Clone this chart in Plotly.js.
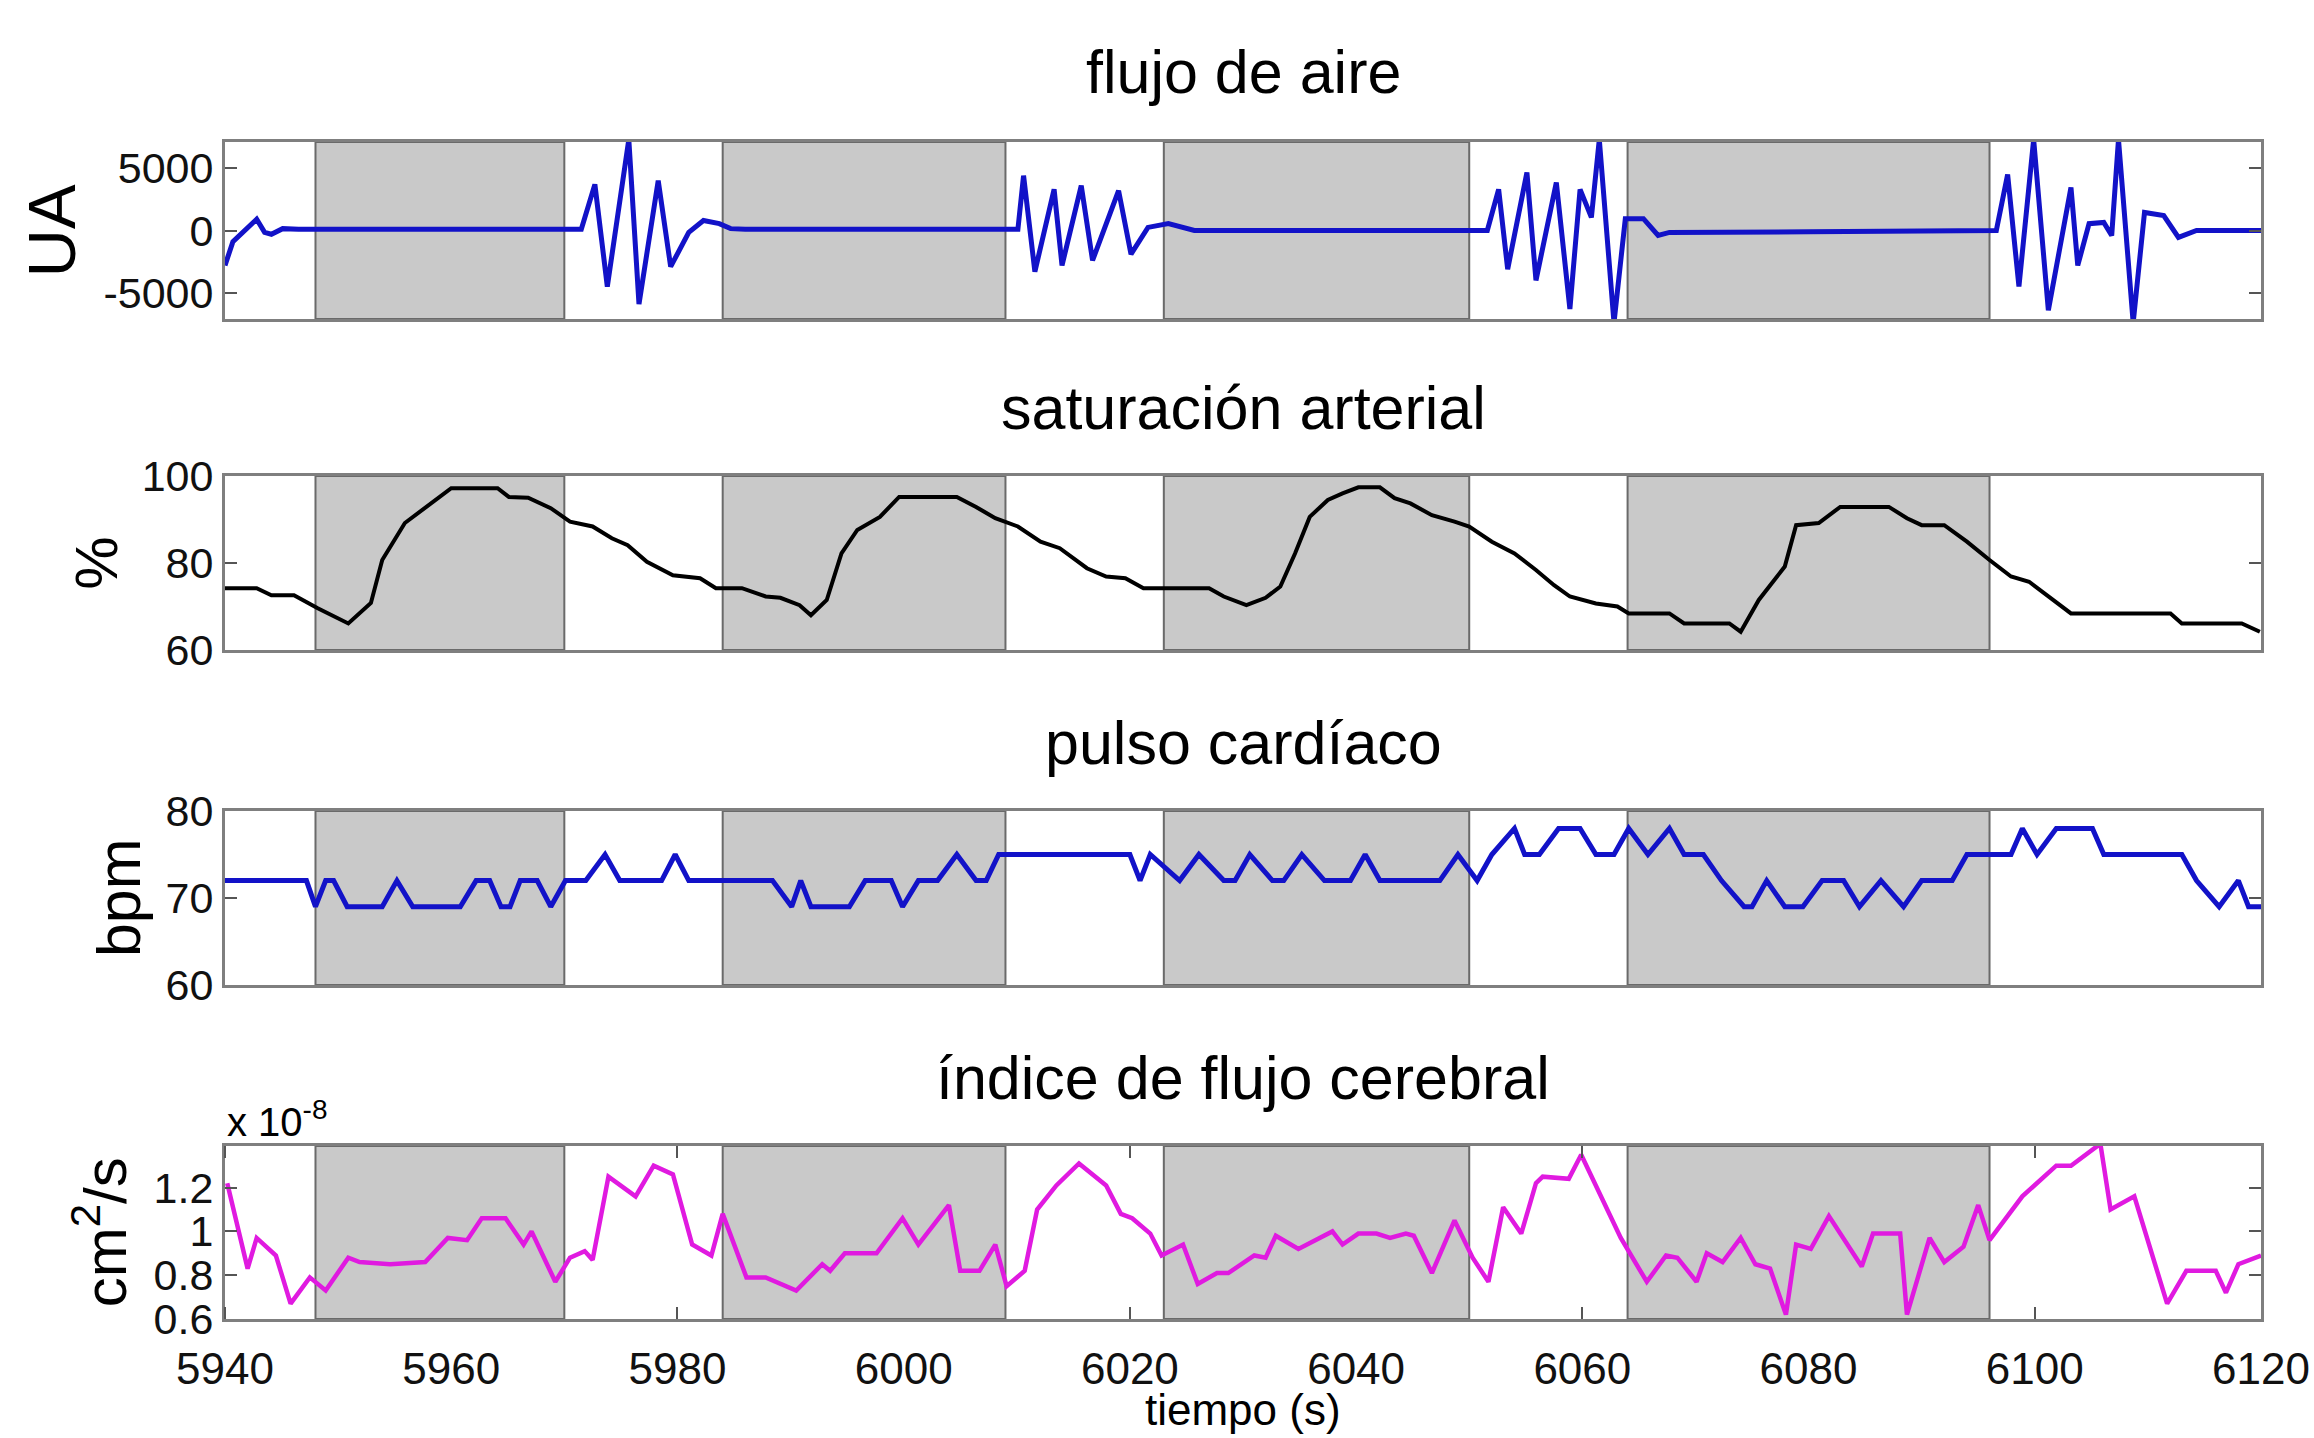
<!DOCTYPE html>
<html>
<head>
<meta charset="utf-8">
<script src="https://cdn.plot.ly/plotly-3.0.1.min.js"></script>
<style>html,body{margin:0;padding:0;background:#fff;}#chart{width:2314px;height:1438px;}</style>
</head>
<body>
<div id="chart"></div>
<script>
// ---- shading intervals (s) ----
const apneaStart = [5948, 5984, 6023, 6064];
const apneaEnd   = [5970, 6009, 6050, 6096];

// ---- panel 1: flujo de aire (UA) ----
const flowT = [5940, 5940.7, 5942.8, 5943.5, 5944.1, 5945.1, 5946.5, 5971.5, 5972.7, 5973.8,
  5975.7, 5976.6, 5978.3, 5979.4, 5981.0, 5982.3, 5983.7, 5984.7, 5986, 6010.1,
  6010.6, 6011.6, 6013.3, 6014.0, 6015.7, 6016.7, 6019.0, 6020.1, 6021.6, 6023.4,
  6025.7, 6051.6, 6052.6, 6053.4, 6055.1, 6055.9, 6057.7, 6058.9, 6059.8, 6060.8,
  6061.5, 6062.8, 6063.8, 6065.4, 6066.7, 6067.7, 6080, 6096.6, 6097.6, 6098.6,
  6099.9, 6101.2, 6103.2, 6103.8, 6104.8, 6106.1, 6106.8, 6107.4, 6108.7, 6109.7,
  6111.4, 6112.7, 6114.3, 6120];
const flowV = [-2800, -900, 900, -150, -300, 150, 100, 100, 3700, -4500,
  7300, -5900, 4000, -2900, -150, 800, 550, 150, 100, 100,
  4400, -3300, 3300, -2800, 3600, -2400, 3200, -1900, 250, 550,
  0, 0, 3300, -3100, 4650, -4000, 3850, -6300, 3300, 1050,
  7300, -7400, 950, 950, -400, -150, -100, 0, 4500, -4500,
  7300, -6400, 3450, -2800, 550, 650, -400, 7300, -7400, 1450,
  1200, -550, 0, 0];

// ---- panel 2: saturación arterial (%) ----
const satT = [5940, 5942.8, 5944.1, 5946.1, 5948.2, 5950.9, 5952.9, 5953.9, 5955.9, 5958.0,
  5960.0, 5964.1, 5965.1, 5966.8, 5968.8, 5970.5, 5972.5, 5974.2, 5975.6, 5977.3,
  5979.6, 5982.0, 5983.4, 5985.7, 5987.8, 5989.1, 5990.8, 5991.8, 5993.2, 5994.5,
  5995.9, 5997.9, 5999.6, 6004.7, 6006.4, 6008.1, 6010.1, 6012.1, 6013.8, 6016.2,
  6017.9, 6019.6, 6021.2, 6027.0, 6028.3, 6030.3, 6032.0, 6033.3, 6034.6, 6035.9,
  6037.5, 6038.8, 6040.2, 6042.1, 6043.4, 6044.8, 6046.7, 6048.7, 6050.0, 6052.0,
  6054.0, 6055.9, 6057.5, 6058.9, 6061.2, 6063.1, 6064.1, 6067.7, 6069.0, 6073.0,
  6074.0, 6075.6, 6077.9, 6078.9, 6080.9, 6082.8, 6087.1, 6088.7, 6090.0, 6092.0,
  6094.0, 6096.0, 6097.9, 6099.5, 6103.2, 6112.0, 6113.0, 6118.3, 6119.9];
const satV = [74.2, 74.2, 72.6, 72.6, 69.6, 66.1, 70.8, 80.7, 89.2, 93.3,
  97.2, 97.2, 95.2, 95.0, 92.6, 89.5, 88.4, 85.7, 84.1, 80.3,
  77.2, 76.5, 74.2, 74.2, 72.3, 72.0, 70.3, 68.0, 71.5, 82.2,
  87.6, 90.6, 95.2, 95.2, 92.9, 90.3, 88.4, 84.9, 83.4, 78.8,
  76.9, 76.5, 74.2, 74.2, 72.3, 70.3, 72.0, 74.6, 82.2, 90.6,
  94.5, 96.0, 97.4, 97.4, 94.9, 93.7, 91.0, 89.5, 88.4, 84.9,
  82.2, 78.4, 74.9, 72.3, 70.7, 70.0, 68.4, 68.4, 66.1, 66.1,
  64.2, 71.5, 79.2, 88.7, 89.2, 92.9, 92.9, 90.3, 88.7, 88.7,
  84.9, 80.7, 76.9, 75.7, 68.4, 68.4, 66.1, 66.1, 64.2];

// ---- panel 3: pulso cardíaco (bpm) ----
const pulseT = [5940, 5947.2, 5948.0, 5948.9, 5949.6, 5950.8, 5953.9, 5955.2, 5956.6, 5960.8,
  5962.2, 5963.4, 5964.4, 5965.2, 5966.1, 5967.6, 5968.8, 5970.1, 5971.9, 5973.6,
  5974.9, 5978.6, 5979.8, 5981.0, 5988.4, 5990.1, 5990.9, 5991.8, 5995.2, 5996.6,
  5998.9, 5999.9, 6001.3, 6003.0, 6004.7, 6006.4, 6007.3, 6008.4, 6020.0, 6020.9,
  6021.8, 6024.4, 6026.1, 6028.3, 6029.3, 6030.6, 6032.6, 6033.6, 6035.2, 6037.2,
  6039.5, 6040.8, 6042.1, 6047.4, 6049.0, 6050.7, 6052.0, 6054.0, 6054.9, 6056.2,
  6057.9, 6059.8, 6061.2, 6062.8, 6064.1, 6065.8, 6067.7, 6069.0, 6070.7, 6072.3,
  6074.3, 6075.0, 6076.3, 6077.9, 6079.5, 6081.2, 6083.1, 6084.5, 6086.4, 6088.4,
  6090.0, 6092.7, 6094.0, 6097.9, 6098.9, 6100.2, 6101.9, 6105.1, 6106.1, 6113.0,
  6114.3, 6116.3, 6118.0, 6118.9, 6120];
const pulseV = [72, 72, 69, 72, 72, 69, 69, 72, 69, 69,
  72, 72, 69, 69, 72, 72, 69, 72, 72, 75,
  72, 72, 75, 72, 72, 69, 72, 69, 69, 72,
  72, 69, 72, 72, 75, 72, 72, 75, 75, 72,
  75, 72, 75, 72, 72, 75, 72, 72, 75, 72,
  72, 75, 72, 72, 75, 72, 75, 78, 75, 75,
  78, 78, 75, 75, 78, 75, 78, 75, 75, 72,
  69, 69, 72, 69, 69, 72, 72, 69, 72, 69,
  72, 72, 75, 75, 78, 75, 78, 78, 75, 75,
  72, 69, 72, 69, 69];

// ---- panel 4: índice de flujo cerebral (x 10^-8 cm^2/s) ----
const cbfT = [5940.2, 5942.0, 5942.8, 5944.5, 5945.8, 5947.5, 5948.9, 5950.9, 5951.9, 5954.6,
  5957.7, 5959.7, 5961.4, 5962.7, 5964.8, 5966.4, 5967.1, 5969.2, 5970.5, 5971.8,
  5972.5, 5973.9, 5976.3, 5977.9, 5979.6, 5981.3, 5983.0, 5984.0, 5986.1, 5987.8,
  5990.5, 5992.8, 5993.5, 5994.8, 5997.6, 5999.9, 6001.3, 6004.0, 6005.0, 6006.7,
  6008.1, 6009.1, 6010.7, 6011.8, 6013.5, 6015.5, 6017.9, 6019.2, 6020.2, 6021.8,
  6022.8, 6024.7, 6026.0, 6027.7, 6028.7, 6031.0, 6032.0, 6032.9, 6034.9, 6037.9,
  6038.8, 6040.2, 6041.8, 6043.0, 6044.4, 6045.1, 6046.7, 6048.7, 6050.3, 6051.7,
  6053.0, 6054.6, 6055.9, 6056.5, 6058.8, 6059.9, 6063.4, 6065.7, 6067.4, 6068.4,
  6070.1, 6071.0, 6072.4, 6074.0, 6075.3, 6076.6, 6078.0, 6078.9, 6080.2, 6081.8,
  6084.7, 6085.7, 6088.1, 6088.7, 6090.7, 6092.0, 6093.7, 6095.0, 6096.0, 6098.9,
  6101.9, 6103.2, 6105.8, 6106.7, 6108.8, 6111.7, 6113.4, 6116.0, 6116.9, 6118.0,
  6120.0];
const cbfV = [1.22, 0.83, 0.97, 0.89, 0.67, 0.79, 0.73, 0.88, 0.86, 0.85,
  0.86, 0.97, 0.96, 1.06, 1.06, 0.94, 1.00, 0.77, 0.88, 0.91,
  0.87, 1.25, 1.16, 1.30, 1.26, 0.94, 0.89, 1.08, 0.79, 0.79,
  0.73, 0.85, 0.82, 0.90, 0.90, 1.06, 0.94, 1.12, 0.82, 0.82,
  0.94, 0.75, 0.82, 1.10, 1.21, 1.31, 1.21, 1.08, 1.06, 0.99,
  0.89, 0.94, 0.76, 0.81, 0.81, 0.89, 0.88, 0.98, 0.92, 1.00,
  0.94, 0.99, 0.99, 0.97, 0.99, 0.98, 0.81, 1.05, 0.88, 0.77,
  1.11, 0.99, 1.22, 1.25, 1.24, 1.35, 0.97, 0.77, 0.89, 0.88,
  0.77, 0.90, 0.86, 0.97, 0.85, 0.83, 0.62, 0.94, 0.92, 1.07,
  0.84, 0.99, 0.99, 0.62, 0.97, 0.86, 0.93, 1.12, 0.96, 1.16,
  1.30, 1.30, 1.40, 1.10, 1.16, 0.67, 0.82, 0.82, 0.72, 0.85,
  0.89];

// ---- texts and ticks ----
const panelTitles = ["flujo de aire", "saturación arterial", "pulso cardíaco", "índice de flujo cerebral"];
const yTitles = ["UA", "%", "bpm", "cm<sup>2</sup>/s"];
const xTitle = "tiempo (s)";
const cbfExponent = "x 10<sup>-8</sup>";
const xTickVals = [5940, 5960, 5980, 6000, 6020, 6040, 6060, 6080, 6100, 6120];
const y1TickVals = [-5000, 0, 5000];
const y1TickText = ["-5000", "0", "5000"];
const y2TickVals = [60, 80, 100];
const y3TickVals = [60, 70, 80];
const y4TickVals = [0.6, 0.8, 1, 1.2];
const y4TickText = ["0.6", "0.8", "1", "1.2"];

// ---- layout geometry ----
const FONT = "Liberation Sans, Arial, Helvetica, sans-serif";
const domains = [[0.8496, 1], [0.5684, 0.7162], [0.2838, 0.4316], [0, 0.1470]];
const yRanges = [[-7100, 7100], [60, 100], [60, 80], [0.6, 1.39]];
const yTicks = [[y1TickVals, y1TickText], [y2TickVals, y2TickVals.map(String)], [y3TickVals, y3TickVals.map(String)], [y4TickVals, y4TickText]];
const frameColor = "#7f7f7f";
const tickColor = "#555555";

const traces = [
  {x: flowT, y: flowV, xaxis: "x", yaxis: "y", mode: "lines", line: {color: "#1212c8", width: 5}},
  {x: satT, y: satV, xaxis: "x2", yaxis: "y2", mode: "lines", line: {color: "#000000", width: 4}},
  {x: pulseT, y: pulseV, xaxis: "x3", yaxis: "y3", mode: "lines", line: {color: "#1212c8", width: 5}},
  {x: cbfT, y: cbfV, xaxis: "x4", yaxis: "y4", mode: "lines", line: {color: "#e01ae0", width: 4.5}}
];

const layout = {
  width: 2314, height: 1438,
  margin: {l: 225, r: 53, t: 142, b: 119},
  paper_bgcolor: "#ffffff", plot_bgcolor: "#ffffff",
  showlegend: false,
  font: {family: FONT, color: "#000000", size: 42},
  shapes: [], annotations: []
};

for (let p = 0; p < 4; p++) {
  const s = p === 0 ? "" : String(p + 1);
  const xa = {
    domain: [0, 1], range: [5940, 6120], anchor: "y" + s,
    showline: true, mirror: true, linecolor: frameColor, linewidth: 3,
    showgrid: false, zeroline: false, ticks: "", showticklabels: false
  };
  if (p === 3) {
    Object.assign(xa, {
      tickmode: "array", tickvals: xTickVals, showticklabels: true,
      ticks: "outside", ticklen: 0, mirror: "ticks",
      tickfont: {family: FONT, size: 44, color: "#111"},
      ticklabelstandoff: 9,
      minor: {ticks: "inside", ticklen: 12, tickwidth: 2, tickcolor: tickColor, tick0: 5940, dtick: 40}
    });
  }
  layout["xaxis" + s] = xa;
  layout["yaxis" + s] = {
    domain: domains[p], range: yRanges[p], anchor: "x" + s,
    tickmode: "array", tickvals: yTicks[p][0], ticktext: yTicks[p][1],
    ticks: "inside", ticklen: 12, tickwidth: 2, tickcolor: tickColor,
    showline: true, mirror: "ticks", linecolor: frameColor, linewidth: 3,
    showgrid: false, zeroline: false,
    tickfont: {family: FONT, size: 43, color: "#111"}
  };
  for (let i = 0; i < apneaStart.length; i++) {
    layout.shapes.push({
      type: "rect", layer: "below",
      xref: "x" + s, yref: "y" + s + " domain",
      x0: apneaStart[i], x1: apneaEnd[i], y0: 0, y1: 1,
      fillcolor: "#c9c9c9", line: {color: "#6a6a6a", width: 2}
    });
  }
}

// subplot titles
const titleY = [1.0595, 0.7736, 0.4890, 0.2044];
panelTitles.forEach((t, i) => layout.annotations.push({
  text: t, xref: "paper", yref: "paper", x: 0.5, y: titleY[i],
  xanchor: "center", yanchor: "middle", showarrow: false,
  font: {family: FONT, size: 61, color: "#000"}
}));
// y axis titles
const yTitleX = [-0.085, -0.0635, -0.052, -0.061];
const yTitleSize = [67, 60, 61, 60];
yTitles.forEach((t, i) => layout.annotations.push({
  text: t, xref: "paper", yref: "paper", x: yTitleX[i], y: (domains[i][0] + domains[i][1]) / 2,
  xanchor: "center", yanchor: "middle", textangle: -90, showarrow: false,
  font: {family: FONT, size: yTitleSize[i], color: "#000"}
}));
// x axis title (kept fully inside the canvas)
layout.annotations.push({
  text: xTitle, xref: "paper", yref: "paper", x: 0.5, y: -0.0995,
  xanchor: "center", yanchor: "bottom", showarrow: false,
  font: {family: FONT, size: 44, color: "#000"}
});
// exponent label
layout.annotations.push({
  text: cbfExponent, xref: "paper", yref: "paper", x: 0, y: domains[3][1],
  xanchor: "left", yanchor: "bottom", showarrow: false,
  font: {family: FONT, size: 40, color: "#000"}
});

Plotly.newPlot("chart", traces, layout, {staticPlot: true, displayModeBar: false});
</script>
</body>
</html>
